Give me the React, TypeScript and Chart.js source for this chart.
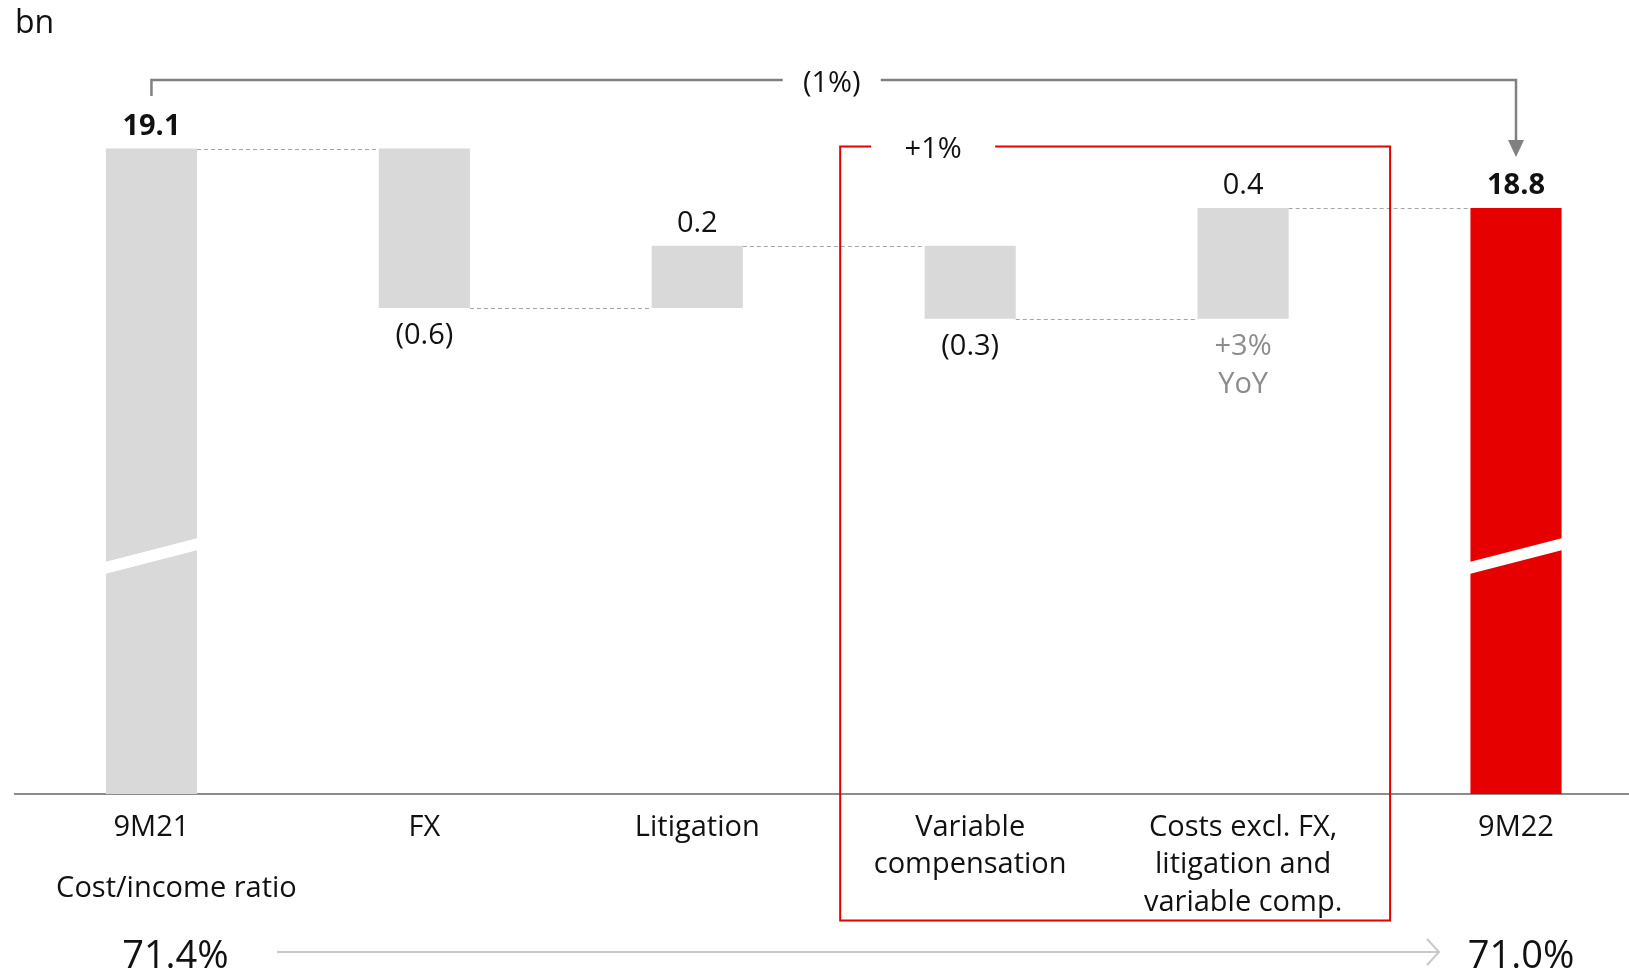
import React, { useEffect, useRef } from "react";
import { Chart, registerables } from "chart.js";

Chart.register(...registerables);

// ---------- data ----------
const categories: (string | string[])[] = [
  "9M21",
  "FX",
  "Litigation",
  ["Variable", "compensation"],
  ["Costs excl. FX,", "litigation and", "variable comp."],
  "9M22",
];
const startTotal = 19.06;
const deltas = [-0.59, 0.23, -0.27, 0.41];
const endTotal = 18.84;
const valueLabels = ["19.1", "(0.6)", "0.2", "(0.3)", "0.4", "18.8"];
const totalChangeLabel = "(1%)";
const boxChangeLabel = "+1%";
const yoyLabels = ["+3%", "YoY"];
const unitLabel = "bn";
const ratioTitle = "Cost/income ratio";
const ratioValues = ["71.4%", "71.0%"];

const FONT = "'Open Sans', 'Noto Sans', sans-serif";
const W = 400;
const GREY_BAR = "#d9d9d9";
const RED = "#e60000";

export default function App() {
  const ref = useRef<HTMLCanvasElement | null>(null);

  useEffect(() => {
    if (!ref.current) return;

    // running levels
    const levels: number[] = [startTotal];
    deltas.forEach((d, i) => levels.push(levels[i] + d));
    const ranges: [number, number][] = [];
    ranges.push([0, startTotal]);
    deltas.forEach((d, i) => {
      const a = levels[i];
      const b = levels[i + 1];
      ranges.push([Math.min(a, b), Math.max(a, b)]);
    });
    ranges.push([0, endTotal]);

    const barData = categories.map((_, i) => {
      if (i === 0) return { x: i, y: startTotal };
      if (i === categories.length - 1) return { x: i, y: endTotal };
      const a = levels[i - 1];
      const b = levels[i];
      return { x: i, y: [a, b] };
    });
    const colors = categories.map((_, i) => (i === categories.length - 1 ? RED : GREY_BAR));

    const overlay = {
      id: "overlay",
      afterDatasetsDraw(chart: any) {
        const ctx: CanvasRenderingContext2D = chart.ctx;
        const area = chart.chartArea;
        const ys = chart.scales.y;
        const bars = chart.getDatasetMeta(0).data;
        const cx = (i: number) => bars[i].x;
        const hw = (i: number) => bars[i].width / 2;
        const topPx = (i: number) => ys.getPixelForValue(ranges[i][1]);
        const botPx = (i: number) => ys.getPixelForValue(ranges[i][0]);
        const n = categories.length;

        ctx.save();

        // axis break bands on total bars
        ctx.fillStyle = "#ffffff";
        [0, n - 1].forEach((i) => {
          const xl = cx(i) - hw(i) - 1;
          const xr = cx(i) + hw(i) + 1;
          const yl = area.bottom - 226;
          const yr = area.bottom - 250;
          ctx.beginPath();
          ctx.moveTo(xl, yl - 6);
          ctx.lineTo(xr, yr - 6);
          ctx.lineTo(xr, yr + 6);
          ctx.lineTo(xl, yl + 6);
          ctx.closePath();
          ctx.fill();
        });

        // dashed connectors
        ctx.strokeStyle = "#a6a6a6";
        ctx.lineWidth = 1;
        ctx.setLineDash([4, 3]);
        for (let i = 0; i < n - 1; i++) {
          const yy = Math.round(ys.getPixelForValue(levels[i])) + 0.5;
          ctx.beginPath();
          ctx.moveTo(cx(i) + hw(i), yy);
          ctx.lineTo(cx(i + 1) - hw(i + 1), yy);
          ctx.stroke();
        }
        ctx.setLineDash([]);

        // value labels
        ctx.textAlign = "center";
        ctx.textBaseline = "alphabetic";
        for (let i = 0; i < n; i++) {
          const isTotal = i === 0 || i === n - 1;
          const neg = !isTotal && deltas[i - 1] < 0;
          ctx.fillStyle = "#111111";
          ctx.font = `${isTotal ? 700 : W} 29px ${FONT}`;
          if (neg) ctx.fillText(valueLabels[i], cx(i), botPx(i) + 36);
          else ctx.fillText(valueLabels[i], cx(i), topPx(i) - 14);
        }
        // YoY annotation under the costs bar
        ctx.fillStyle = "#8c8c8c";
        ctx.font = `${W} 29px ${FONT}`;
        ctx.fillText(yoyLabels[0], cx(4), botPx(4) + 36);
        ctx.fillText(yoyLabels[1], cx(4), botPx(4) + 74);

        // overall bracket with arrow
        const by = area.top - 20;
        const gx = (cx(2) + cx(3)) / 2 - 2;
        ctx.strokeStyle = "#808080";
        ctx.lineWidth = 2.5;
        ctx.beginPath();
        ctx.moveTo(cx(0), area.top - 4);
        ctx.lineTo(cx(0), by);
        ctx.lineTo(gx - 49, by);
        ctx.moveTo(gx + 49, by);
        ctx.lineTo(cx(n - 1), by);
        ctx.lineTo(cx(n - 1), area.top + 42);
        ctx.stroke();
        ctx.fillStyle = "#808080";
        ctx.beginPath();
        ctx.moveTo(cx(n - 1) - 8, area.top + 40);
        ctx.lineTo(cx(n - 1) + 8, area.top + 40);
        ctx.lineTo(cx(n - 1), area.top + 57);
        ctx.closePath();
        ctx.fill();
        ctx.fillStyle = "#111111";
        ctx.font = `${W} 29px ${FONT}`;
        ctx.textBaseline = "middle";
        ctx.fillText(totalChangeLabel, gx, by + 4);

        // red box around variable comp & costs
        const rl = cx(3) - 130;
        const rr = cx(4) + 147;
        const rt = area.top + 46.5;
        const rb = area.bottom + 126.5;
        const tx = cx(3) - 37;
        ctx.strokeStyle = RED;
        ctx.lineWidth = 2;
        ctx.beginPath();
        ctx.moveTo(tx - 62, rt);
        ctx.lineTo(rl, rt);
        ctx.lineTo(rl, rb);
        ctx.lineTo(rr, rb);
        ctx.lineTo(rr, rt);
        ctx.lineTo(tx + 62, rt);
        ctx.stroke();
        ctx.fillStyle = "#111111";
        ctx.fillText(boxChangeLabel, tx, rt + 3);

        // unit label
        ctx.textAlign = "left";
        ctx.textBaseline = "alphabetic";
        ctx.font = `${W} 32px ${FONT}`;
        ctx.fillText(unitLabel, 15, 33);

        // cost / income ratio row
        ctx.font = `${W} 29px ${FONT}`;
        ctx.textAlign = "center";
        ctx.fillText(ratioTitle, cx(0) + 25, 897);
        ctx.font = `${W} 38px ${FONT}`;
        ctx.fillText(ratioValues[0], cx(0) + 24, 968);
        ctx.fillText(ratioValues[1], cx(n - 1) + 5, 968);

        ctx.strokeStyle = "#c8c8c8";
        ctx.lineWidth = 2;
        ctx.beginPath();
        ctx.moveTo(277, 952);
        ctx.lineTo(1438, 952);
        ctx.moveTo(1427, 939);
        ctx.lineTo(1439, 952);
        ctx.lineTo(1427, 965);
        ctx.stroke();

        ctx.restore();
      },
    };

    const chart = new Chart(ref.current, {
      type: "bar",
      data: {
        datasets: [
          {
            data: barData as any,
            backgroundColor: colors,
            borderWidth: 0,
            barPercentage: 0.334,
            categoryPercentage: 1,
            clip: 0 as any,
          },
        ],
      },
      options: {
        animation: false,
        responsive: false,
        layout: { padding: { top: 100, left: 15, right: 0, bottom: 0 } },
        plugins: { legend: { display: false }, tooltip: { enabled: false } },
        scales: {
          x: {
            type: "linear",
            min: -0.5,
            max: 5.414,
            offset: false,
            grid: { display: false, drawTicks: false },
            border: { display: true, color: "#8c8c8c", width: 2 },
            afterBuildTicks: (s: any) => {
              s.ticks = categories.map((_, i) => ({ value: i }));
            },
            afterFit: (s: any) => {
              s.height = 178;
            },
            ticks: {
              autoSkip: false,
              maxRotation: 0,
              minRotation: 0,
              padding: 15,
              color: "#111111",
              font: { size: 29, family: FONT, weight: W as any, lineHeight: 1.29 },
              callback: (v: any) => categories[Math.round(Number(v))] as any,
            },
          },
          y: { display: false, min: 16.67, max: 19.24 },
        },
      },
      plugins: [overlay],
    });

    return () => chart.destroy();
  }, []);

  return (
    <div style={{ position: "fixed", left: 0, top: 0, width: 1629, height: 972, background: "#fff" }}>
      <canvas ref={ref} width={1629} height={972} style={{ display: "block" }} />
    </div>
  );
}
